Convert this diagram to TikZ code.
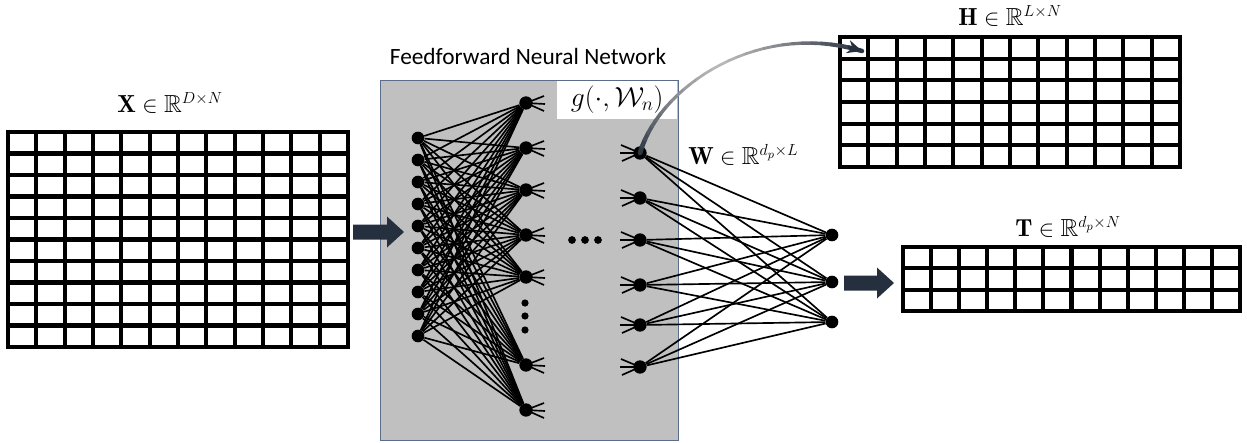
\documentclass[tikz,border=0pt]{standalone}
\usepackage{amsmath,amssymb}
\usepackage{fontspec}
\newfontfamily\titlefont{Carlito}
\usetikzlibrary{arrows.meta}
\definecolor{arrowc}{HTML}{262F3D}
\definecolor{curvelight}{HTML}{B8B8B8}
\definecolor{boxfill}{HTML}{C0C0C0}
\definecolor{boxline}{HTML}{5A6E8C}
\newcommand\matgrid[6]{%
  \pgfmathtruncatemacro\mgc{#5-1}%
  \pgfmathtruncatemacro\mgr{#6-1}%
  \foreach \c in {1,...,\mgc}{\draw[gridln] ({#1+(#3-#1)*\c/#5},#2) -- ({#1+(#3-#1)*\c/#5},#4);}%
  \foreach \r in {1,...,\mgr}{\draw[gridln] (#1,{#2+(#4-#2)*\r/#6}) -- (#3,{#2+(#4-#2)*\r/#6});}%
  \draw[gridln] (#1,#2) rectangle (#3,#4);%
}
\begin{document}
\begin{tikzpicture}[x=0.75pt,y=-0.75pt,
  gridln/.style={line width=3.1pt},
  neuron/.style={circle, fill=black, inner sep=0pt, minimum size=9.5pt},
  conn/.style={line width=1.25pt},
  stub/.style={line width=1.25pt},
  lbl/.style={font=\fontsize{18.5}{20}\selectfont, inner sep=0pt, anchor=base},
  fatarrow/.style={fill=arrowc}
]
\useasboundingbox (0,0) rectangle (1247,443);

% matrices
\matgrid{8}{132}{348}{347}{12}{10}
\matgrid{840}{37}{1180}{167}{12}{6}
\matgrid{903}{247}{1240}{311}{12}{3}
\coordinate (Hin) at (862,51);

\node[lbl] (xl) at (170,112) {$\mathbf{X}\in\mathbb{R}^{D\times N}$};
\node[lbl] (hl) at (1010,25) {$\mathbf{H}\in\mathbb{R}^{L\times N}$};
\node[lbl] (tl) at (1068,236) {$\mathbf{T}\in\mathbb{R}^{d_p\times N}$};

% network box
\node[draw=boxline, fill=boxfill, line width=0.7pt, inner sep=0pt, anchor=north west,
      minimum width=223.5pt, minimum height=270pt] (net) at (380,80) {};
\node[font=\titlefont\fontsize{17.5}{20}\selectfont, inner sep=0pt, anchor=base] (title) at (528,64) {Feedforward Neural Network};

% neurons
\foreach \i in {1,...,10}{\node[neuron] (i\i) at (418,{116+22*\i}) {};}
\foreach \n/\y in {1/103,2/148,3/190,4/235,5/277,6/365,7/410}{\node[neuron, minimum size=10pt] (h\n) at (526,\y) {};}
\foreach \n/\y in {1/153,2/198,3/240,4/285,5/325,6/367}{\node[neuron, minimum size=10pt] (k\n) at (640,\y) {};}
\foreach \n/\y in {1/235,2/282,3/322}{\node[neuron] (o\n) at (832,\y) {};}

% connections
\foreach \i in {1,...,10}{\foreach \j in {1,...,7}{\draw[conn] (i\i) -- (h\j);}}
\foreach \i in {1,...,6}{\foreach \j in {1,...,3}{\draw[conn] (k\i) -- (o\j);}}
\foreach \j in {1,...,7}{\draw[stub] (h\j.center) -- ++(18,-7) (h\j.center) -- ++(19,1) (h\j.center) -- ++(18,8);}
\foreach \j in {1,...,6}{\draw[stub] (k\j.center) -- ++(-19,-8) (k\j.center) -- ++(-20,0) (k\j.center) -- ++(-18,8);}

% ellipsis dots
\foreach \y in {303,316,330}{\fill (525,\y) circle (2.7pt);}
\foreach \x in {572,585,598}{\fill (\x,240) circle (2.9pt);}

% g label
\node[fill=white, inner sep=0pt, anchor=north east, minimum width=90pt, minimum height=28.5pt,
      font=\fontsize{22.5}{24}\selectfont] (gl) at (677.5,80.5) {$g(\cdot,\mathcal{W}_n)$};

\node[lbl, anchor=base west] (wl) at (688,164) {$\mathbf{W}\in\mathbb{R}^{d_p\times L}$};

% fat arrows
\coordinate (a1) at (353,232);
\fill[fatarrow] (a1) ++(0,-7.5) -- ++(34,0) -- ++(0,-8) -- ++(17,15.5) -- ++(-17,15.5) -- ++(0,-8) -- ++(-34,0) -- cycle;
\coordinate (a2) at (844,283);
\fill[fatarrow] (a2) ++(0,-7.5) -- ++(33,0) -- ++(0,-8) -- ++(17,15.5) -- ++(-17,15.5) -- ++(0,-8) -- ++(-33,0) -- cycle;

% curved arrow from k1 to H (shaded dark-light-dark)
\foreach \s in {0,...,29}{%
  \pgfmathsetmacro\ta{\s/30}%
  \pgfmathsetmacro\tb{(\s+1)/30}%
  \pgfmathsetmacro\mix{int(100*abs(\ta+\tb-1)^1.3)}%
  \pgfmathsetmacro\wd{2.0+1.6*abs(2*\ta-1)^2}%
  \draw[color=arrowc!\mix!curvelight, line width=\wd pt, line cap=round]
    ({(1-\ta)^3*640+3*(1-\ta)^2*\ta*660+3*(1-\ta)*\ta^2*760+\ta^3*862},{(1-\ta)^3*153+3*(1-\ta)^2*\ta*85+3*(1-\ta)*\ta^2*20+\ta^3*51})
    -- ({(1-\tb)^3*640+3*(1-\tb)^2*\tb*660+3*(1-\tb)*\tb^2*760+\tb^3*862},{(1-\tb)^3*153+3*(1-\tb)^2*\tb*85+3*(1-\tb)*\tb^2*20+\tb^3*51});
}
\draw[arrowc, line width=2.4pt, -{Stealth[length=11pt,width=10pt]}] (848,46.7) -- (Hin);
\end{tikzpicture}
\end{document}
